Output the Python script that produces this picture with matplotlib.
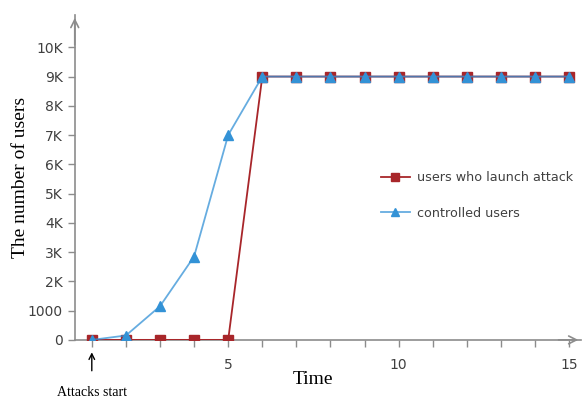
#Attack spread chart

#Importing_Libraries
import matplotlib
matplotlib.use('Agg')
import matplotlib.pyplot as plt

#Data
time = [1, 2, 3, 4, 5, 6, 7, 8, 9, 10, 11, 12, 13, 14, 15]
attack_users = [0, 0, 0, 0, 0, 9000, 9000, 9000, 9000, 9000, 9000, 9000, 9000, 9000, 9000]
controlled_users = [0, 150, 1150, 2850, 7000, 9000, 9000, 9000, 9000, 9000, 9000, 9000, 9000, 9000, 9000]
y_ticks = [0, 1000, 2000, 3000, 4000, 5000, 6000, 7000, 8000, 9000, 10000]
y_tick_labels = ['0', '1000', '2K', '3K', '4K', '5K', '6K', '7K', '8K', '9K', '10K']

red = '#A8262A'
blue = '#3392D6'
axis_gray = '#8C8C8C'
text_gray = '#404040'

fig = plt.figure(figsize=(5.84, 3.98), dpi=100)
ax = fig.add_axes([0.128, 0.146, 0.867, 0.816])

ax.plot(time, attack_users, color=red, lw=1.3, marker='s', ms=7,
        label='users who launch attack', zorder=3)
ax.plot(time, controlled_users, color=(0.2, 0.57, 0.84, 0.75), lw=1.3, marker='^', ms=7,
        mfc=blue, mec=blue, label='controlled users', zorder=4)

ax.set_xlim(0.5, 15.35)
ax.set_ylim(0, 11100)

#Axes look
for s in ['top', 'right']:
    ax.spines[s].set_visible(False)
for s in ['left', 'bottom']:
    ax.spines[s].set_color(axis_gray)
    ax.spines[s].set_linewidth(1.2)

ax.set_xticks(time)
ax.set_xticklabels(['' if t % 5 else str(t) for t in time])
ax.set_yticks(y_ticks)
ax.set_yticklabels(y_tick_labels)
ax.tick_params(colors=axis_gray, labelcolor=text_gray, labelsize=10, length=5, width=1)
ax.tick_params(axis='x', pad=8)

#Arrow heads on axes
ax.annotate('', xy=(0, 1.0), xytext=(0, 0.9), xycoords='axes fraction',
            arrowprops=dict(arrowstyle='->', color=axis_gray, lw=1.2, mutation_scale=14))
ax.annotate('', xy=(1.0, 0), xytext=(0.95, 0), xycoords='axes fraction',
            arrowprops=dict(arrowstyle='->', color=axis_gray, lw=1.2, mutation_scale=14))

#Labels
ax.set_ylabel('The number of users', family='Liberation Serif', fontsize=14, color='black', labelpad=-1)
ax.set_xlabel('Time', family='Liberation Serif', fontsize=14, color='black')
ax.xaxis.set_label_coords(0.47, -0.097)

#Attack start marker
ax.annotate('', xy=(1, -330), xytext=(1, -1150), annotation_clip=False,
            arrowprops=dict(arrowstyle='->', color='black', lw=1, mutation_scale=10))
ax.text(1, -1800, 'Attacks start', ha='center', va='center',
        family='Liberation Serif', fontsize=10, color='black', clip_on=False)

ax.legend(loc='center left', bbox_to_anchor=(0.583, 0.445), frameon=False,
          fontsize=9.2, labelcolor=text_gray, handlelength=2.2, handletextpad=0.55,
          labelspacing=1.75, markerscale=0.75)

plt.savefig('out.png', dpi=100)
